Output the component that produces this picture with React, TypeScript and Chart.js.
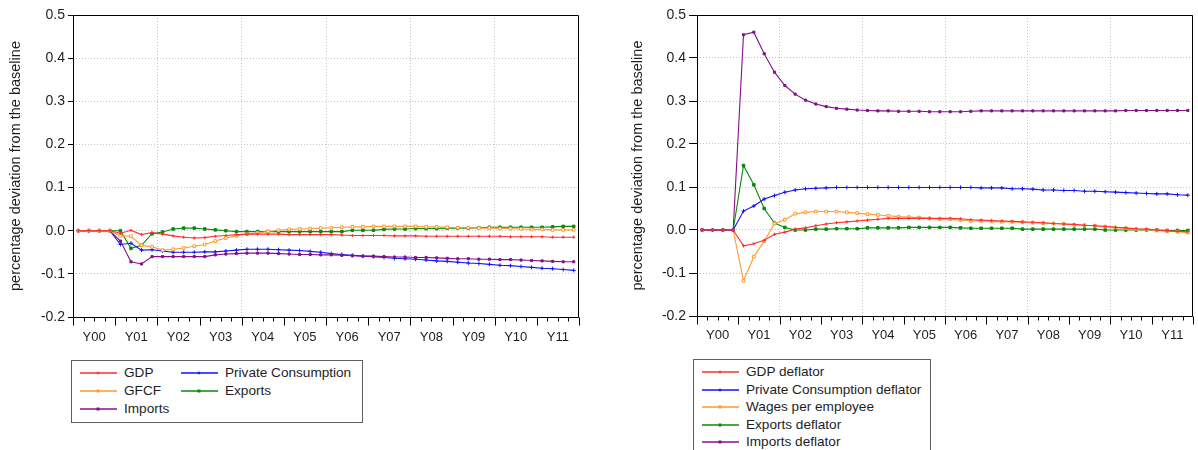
import React, { useEffect, useRef } from "react";
import { Chart, registerables } from "chart.js";

Chart.register(...registerables);

// ---------- data ----------
const YEAR_LABELS = ["Y00", "Y01", "Y02", "Y03", "Y04", "Y05", "Y06", "Y07", "Y08", "Y09", "Y10", "Y11"];
const Y_TICKS = [-0.2, -0.1, 0.0, 0.1, 0.2, 0.3, 0.4, 0.5];
const Y_TITLE = "percentage deviation from the baseline";

// Left panel (quarterly, Y00Q1 .. Y11Q4)
const gdp = [
  0, 0, 0, 0, -0.006, 0.001, -0.009, -0.004, -0.008, -0.012, -0.015, -0.017,
  -0.016, -0.013, -0.011, -0.009, -0.008, -0.008, -0.008, -0.008, -0.009, -0.009, -0.009, -0.009,
  -0.009, -0.010, -0.011, -0.011, -0.011, -0.011, -0.012, -0.012, -0.012, -0.013, -0.013, -0.013,
  -0.013, -0.013, -0.013, -0.013, -0.013, -0.014, -0.014, -0.014, -0.014, -0.015, -0.015, -0.015,
];
const gfcf = [
  0, 0, 0, 0, -0.012, -0.013, -0.034, -0.037, -0.045, -0.043, -0.040, -0.036,
  -0.032, -0.024, -0.017, -0.012, -0.008, -0.005, -0.002, 0.001, 0.003, 0.004, 0.005, 0.006,
  0.007, 0.008, 0.009, 0.009, 0.010, 0.010, 0.010, 0.010, 0.010, 0.009, 0.009, 0.008,
  0.007, 0.007, 0.006, 0.006, 0.005, 0.005, 0.004, 0.003, 0.003, 0.002, 0.002, 0.002,
];
const privateConsumption = [
  0, 0, 0, 0, -0.032, -0.029, -0.045, -0.044, -0.047, -0.050, -0.050, -0.050,
  -0.049, -0.049, -0.047, -0.045, -0.043, -0.043, -0.043, -0.044, -0.045, -0.046, -0.048, -0.050,
  -0.053, -0.055, -0.057, -0.059, -0.060, -0.062, -0.064, -0.065, -0.066, -0.068, -0.070, -0.071,
  -0.073, -0.075, -0.076, -0.078, -0.080, -0.081, -0.083, -0.085, -0.087, -0.088, -0.090, -0.092,
];
const exportsVol = [
  0, 0, 0, 0, 0, -0.041, -0.034, -0.007, -0.003, 0.004, 0.006, 0.006,
  0.004, 0.002, 0.000, -0.002, -0.002, -0.002, -0.002, -0.002, -0.002, -0.002, -0.002, -0.002,
  -0.002, -0.002, 0.001, 0.001, 0.001, 0.003, 0.004, 0.004, 0.005, 0.005, 0.005, 0.006,
  0.006, 0.006, 0.007, 0.008, 0.008, 0.008, 0.008, 0.008, 0.008, 0.009, 0.010, 0.010,
];
const importsVol = [
  0, 0, 0, 0, -0.024, -0.072, -0.077, -0.060, -0.060, -0.060, -0.060, -0.060,
  -0.060, -0.056, -0.054, -0.053, -0.052, -0.052, -0.052, -0.053, -0.054, -0.055, -0.055, -0.056,
  -0.056, -0.057, -0.058, -0.059, -0.059, -0.060, -0.061, -0.061, -0.062, -0.062, -0.063, -0.064,
  -0.065, -0.065, -0.066, -0.066, -0.067, -0.067, -0.068, -0.069, -0.070, -0.071, -0.072, -0.072,
];

// Right panel
const gdpDeflator = [
  0, 0, 0, 0, -0.037, -0.032, -0.024, -0.010, -0.005, 0.002, 0.005, 0.010,
  0.014, 0.017, 0.019, 0.021, 0.023, 0.025, 0.027, 0.027, 0.027, 0.027, 0.027, 0.027,
  0.027, 0.026, 0.024, 0.023, 0.022, 0.021, 0.020, 0.019, 0.018, 0.017, 0.015, 0.014,
  0.013, 0.011, 0.010, 0.008, 0.006, 0.005, 0.003, 0.002, 0.000, -0.002, -0.003, -0.004,
];
const pcDeflator = [
  0, 0, 0, 0, 0.044, 0.056, 0.072, 0.080, 0.088, 0.093, 0.096, 0.097,
  0.098, 0.099, 0.099, 0.099, 0.099, 0.099, 0.099, 0.099, 0.099, 0.099, 0.099, 0.099,
  0.099, 0.099, 0.099, 0.098, 0.098, 0.098, 0.096, 0.096, 0.095, 0.093, 0.093, 0.092,
  0.092, 0.090, 0.090, 0.089, 0.088, 0.087, 0.086, 0.085, 0.084, 0.084, 0.082, 0.081,
];
const wagesPerEmployee = [
  0, 0, 0, 0, -0.118, -0.062, -0.026, 0.015, 0.024, 0.038, 0.041, 0.043,
  0.043, 0.043, 0.041, 0.039, 0.037, 0.035, 0.033, 0.031, 0.030, 0.029, 0.027, 0.025,
  0.025, 0.023, 0.021, 0.021, 0.020, 0.019, 0.019, 0.018, 0.017, 0.016, 0.015, 0.014,
  0.012, 0.011, 0.010, 0.008, 0.006, 0.004, 0.002, 0.001, -0.001, -0.003, -0.004, -0.006,
];
const exportsDeflator = [
  0, 0, 0, 0, 0.150, 0.105, 0.050, 0.016, 0.006, 0.000, 0.000, 0.002,
  0.002, 0.003, 0.003, 0.003, 0.005, 0.005, 0.005, 0.005, 0.006, 0.006, 0.006, 0.006,
  0.006, 0.005, 0.004, 0.004, 0.004, 0.004, 0.004, 0.002, 0.002, 0.002, 0.002, 0.002,
  0.002, 0.002, 0.002, 0.000, 0.000, 0.000, 0.000, 0.000, 0.000, -0.001, -0.001, -0.001,
];
const importsDeflator = [
  0, 0, 0, 0, 0.454, 0.460, 0.410, 0.367, 0.336, 0.316, 0.302, 0.293,
  0.287, 0.283, 0.281, 0.279, 0.278, 0.277, 0.277, 0.276, 0.276, 0.276, 0.275, 0.275,
  0.275, 0.275, 0.276, 0.277, 0.277, 0.277, 0.277, 0.277, 0.277, 0.277, 0.277, 0.277,
  0.277, 0.277, 0.277, 0.277, 0.277, 0.278, 0.278, 0.278, 0.278, 0.278, 0.278, 0.278,
];

// ---------- styles ----------
const FONT = "'Liberation Sans', Arial, Helvetica, sans-serif";
const TEXT = "#1e1e1e";
const RED = "#ff2e2e";
const ORANGE = "#ff9a2e";
const BLUE = "#1010ff";
const GREEN = "#0a8a0a";
const PURPLE = "#86108a";

type SeriesDef = { label: string; values: number[]; color: string; marker: string; radius: number; hollow?: boolean };

const LEFT_SERIES: SeriesDef[] = [
  { label: "GDP", values: gdp, color: RED, marker: "cross", radius: 1.6 },
  { label: "GFCF", values: gfcf, color: ORANGE, marker: "rect", radius: 1.9, hollow: true },
  { label: "Imports", values: importsVol, color: PURPLE, marker: "rect", radius: 1.5 },
  { label: "Private Consumption", values: privateConsumption, color: BLUE, marker: "cross", radius: 2 },
  { label: "Exports", values: exportsVol, color: GREEN, marker: "rect", radius: 1.8 },
];

const RIGHT_SERIES: SeriesDef[] = [
  { label: "GDP deflator", values: gdpDeflator, color: RED, marker: "cross", radius: 1.6 },
  { label: "Private Consumption deflator", values: pcDeflator, color: BLUE, marker: "cross", radius: 2 },
  { label: "Wages per employee", values: wagesPerEmployee, color: ORANGE, marker: "rect", radius: 1.9, hollow: true },
  { label: "Exports deflator", values: exportsDeflator, color: GREEN, marker: "rect", radius: 1.8 },
  { label: "Imports deflator", values: importsDeflator, color: PURPLE, marker: "rect", radius: 1.5 },
];

const N_Q = YEAR_LABELS.length * 4;

type PanelCfg = {
  width: number;
  height: number;
  yAxisWidth: number;
  xAxisHeight: number;
  padRight: number;
  padTop: number;
  yTickLen: number;
  titlePad: number;
  xLabelPad: number;
};

function framePlugin(majorLen: number, minorLen: number) {
  return {
    id: "frameTicks",
    afterDraw(chart: any) {
      const { ctx, chartArea } = chart;
      const xs = chart.scales.x;
      const l = Math.round(chartArea.left) + 0.5;
      const r = Math.round(chartArea.right) - 0.5;
      const t = Math.round(chartArea.top) + 0.5;
      const b = Math.round(chartArea.bottom) + 0.5;
      ctx.save();
      ctx.strokeStyle = "#000";
      ctx.lineWidth = 1;
      ctx.setLineDash([]);
      ctx.beginPath();
      ctx.rect(l, t, r - l, b - t);
      for (let v = 0; v <= N_Q; v++) {
        const px = Math.round(xs.getPixelForValue(v)) + 0.5;
        const len = v % 4 === 0 ? majorLen : minorLen;
        ctx.moveTo(px, b);
        ctx.lineTo(px, b + len);
      }
      ctx.stroke();
      ctx.restore();
    },
  };
}

function PanelChart({ series, cfg, major, minor }: { series: SeriesDef[]; cfg: PanelCfg; major: number; minor: number }) {
  const ref = useRef<HTMLCanvasElement | null>(null);
  useEffect(() => {
    if (!ref.current) return;
    const datasets = series.map((s) => ({
      label: s.label,
      data: s.values.map((v, i) => ({ x: i + 0.5, y: v })),
      borderColor: s.color,
      backgroundColor: s.hollow ? "#ffffff" : s.color,
      borderWidth: 1.1,
      pointStyle: s.marker as any,
      pointRadius: s.radius,
      pointBorderWidth: 1,
      pointBorderColor: s.color,
      pointBackgroundColor: s.hollow ? "#ffffff" : s.color,
      tension: 0,
      fill: false,
    }));
    const chart = new Chart(ref.current, {
      type: "line",
      data: { datasets },
      options: {
        responsive: false,
        animation: false,
        events: [],
        layout: { padding: { left: 0, top: cfg.padTop, right: cfg.padRight, bottom: 0 } },
        plugins: { legend: { display: false }, tooltip: { enabled: false } },
        scales: {
          x: {
            type: "linear",
            min: 0,
            max: N_Q,
            afterBuildTicks: (scale: any) => {
              scale.ticks = Array.from({ length: N_Q + 1 }, (_, v) => ({ value: v }));
            },
            afterFit: (scale: any) => {
              scale.height = cfg.xAxisHeight;
            },
            ticks: {
              autoSkip: false,
              maxRotation: 0,
              minRotation: 0,
              padding: cfg.xLabelPad,
              color: TEXT,
              font: { family: FONT, size: 13 },
              callback: (value: any) => {
                const v = Number(value);
                return v % 4 === 2 ? YEAR_LABELS[(v - 2) / 4] : "";
              },
            },
            grid: {
              drawTicks: true,
              tickLength: 8,
              tickColor: "rgba(0,0,0,0)",
              lineWidth: 1,
              color: (ctx: any) => {
                const v = ctx.tick ? ctx.tick.value : -1;
                return v > 0 && v < N_Q && v % 8 === 0 ? "#c4c4c4" : "rgba(0,0,0,0)";
              },
            },
            border: { display: false, dash: [1, 2] },
          },
          y: {
            type: "linear",
            min: -0.2,
            max: 0.5,
            afterBuildTicks: (scale: any) => {
              scale.ticks = Y_TICKS.map((v) => ({ value: v }));
            },
            afterFit: (scale: any) => {
              scale.width = cfg.yAxisWidth;
            },
            ticks: {
              padding: 3,
              color: TEXT,
              font: { family: FONT, size: 14 },
              callback: (value: any) => {
                const v = Number(value);
                return Math.abs(v) < 1e-9 ? "0.0" : v.toFixed(1);
              },
            },
            grid: {
              drawTicks: true,
              tickLength: cfg.yTickLen,
              tickColor: "#000",
              color: "#c4c4c4",
              lineWidth: 1,
            },
            border: { display: false, dash: [1, 2] },
            title: {
              display: true,
              text: Y_TITLE,
              color: TEXT,
              font: { family: FONT, size: 14.5 },
              padding: { top: cfg.titlePad, bottom: 0 },
            },
          },
        },
      },
      plugins: [framePlugin(major, minor)],
    } as any);
    return () => chart.destroy();
  }, []);
  return <canvas ref={ref} width={cfg.width} height={cfg.height} style={{ width: cfg.width, height: cfg.height, display: "block" }} />;
}

function Marker({ s }: { s: SeriesDef }) {
  const cx = 18;
  const cy = 5;
  if (s.marker === "cross") {
    return (
      <g stroke={s.color} strokeWidth={1}>
        <line x1={cx - 1.5} y1={cy} x2={cx + 1.5} y2={cy} />
        <line x1={cx} y1={cy - 1.5} x2={cx} y2={cy + 1.5} />
      </g>
    );
  }
  return <rect x={cx - 1.5} y={cy - 1.5} width={3} height={3} fill={s.color} />;
}

function LegendItem({ s, x, y }: { s: SeriesDef; x: number; y: number }) {
  return (
    <div style={{ position: "absolute", left: x, top: y - 9, height: 18, display: "flex", alignItems: "center", whiteSpace: "nowrap" }}>
      <svg width={37} height={10} style={{ display: "block" }}>
        <line x1={0} y1={5} x2={37} y2={5} stroke={s.color} strokeWidth={1.3} />
        <Marker s={s} />
      </svg>
      <span style={{ marginLeft: 7, fontFamily: FONT, fontSize: 13.6, color: TEXT, lineHeight: "18px" }}>{s.label}</span>
    </div>
  );
}

const LEFT_CFG: PanelCfg = {
  width: 590,
  height: 350,
  yAxisWidth: 73,
  xAxisHeight: 33,
  padRight: 11,
  padTop: 15,
  yTickLen: 5,
  titlePad: 7,
  xLabelPad: 5,
};

const RIGHT_CFG: PanelCfg = {
  width: 578,
  height: 350,
  yAxisWidth: 77,
  xAxisHeight: 34,
  padRight: 2,
  padTop: 15,
  yTickLen: 8,
  titlePad: 9,
  xLabelPad: 4,
};

export default function App() {
  return (
    <div style={{ position: "fixed", left: 0, top: 0, width: 1198, height: 450, background: "#fff", overflow: "hidden" }}>
      <div style={{ position: "absolute", left: 0, top: 0 }}>
        <PanelChart series={LEFT_SERIES} cfg={LEFT_CFG} major={8} minor={4} />
      </div>
      <div style={{ position: "absolute", left: 620, top: 0 }}>
        <PanelChart series={RIGHT_SERIES} cfg={RIGHT_CFG} major={8} minor={4} />
      </div>

      {/* left legend */}
      <div style={{ position: "absolute", left: 71, top: 360, width: 290, height: 61, border: "1px solid #5e5e5e" }} />
      <LegendItem s={LEFT_SERIES[0]} x={80} y={373} />
      <LegendItem s={LEFT_SERIES[1]} x={80} y={391} />
      <LegendItem s={LEFT_SERIES[2]} x={80} y={409} />
      <LegendItem s={LEFT_SERIES[3]} x={181} y={373} />
      <LegendItem s={LEFT_SERIES[4]} x={181} y={391} />

      {/* right legend */}
      <div style={{ position: "absolute", left: 693, top: 359, width: 236, height: 120, border: "1px solid #5e5e5e" }} />
      {RIGHT_SERIES.map((s, i) => (
        <LegendItem key={s.label} s={s} x={702} y={372 + i * 17.5} />
      ))}
    </div>
  );
}
